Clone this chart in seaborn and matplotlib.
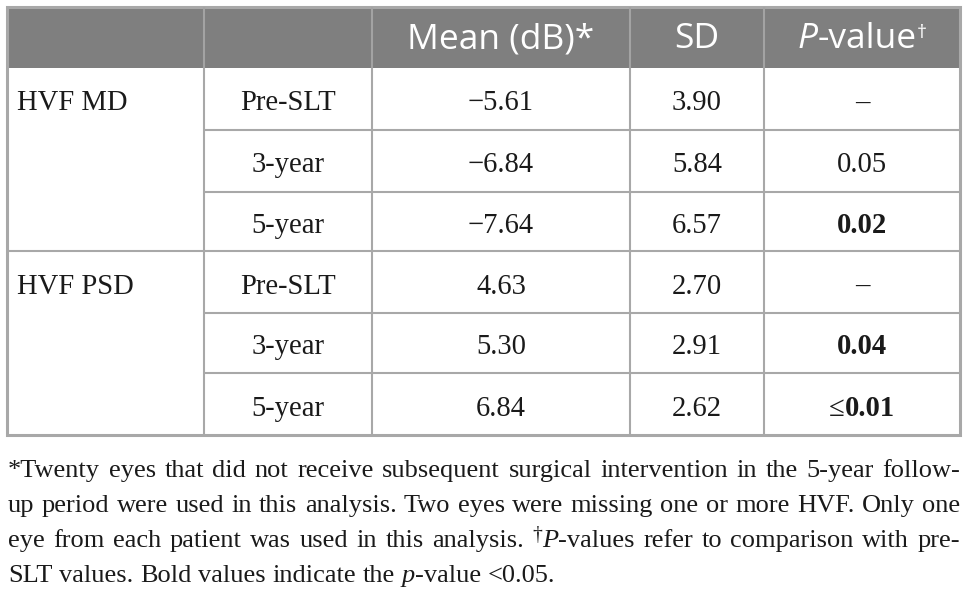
import numpy as np
import pandas as pd
import seaborn as sns
import matplotlib.pyplot as plt
from matplotlib.patches import Rectangle

# ----------------------------
# DATA
# ----------------------------
measures = ["HVF MD", "HVF PSD"]
timepoints = ["Pre-SLT", "3-year", "5-year"]
mean_db = [-5.61, -6.84, -7.64, 4.63, 5.30, 6.84]
sd_db = [3.90, 5.84, 6.57, 2.70, 2.91, 2.62]
p_values = ["–", "0.05", "0.02", "–", "0.04", "0.01"]
p_prefix = ["", "", "", "", "", "≤"]
p_bold = [False, False, True, False, True, True]

footnote = [
    "*Twenty eyes that did not receive subsequent surgical intervention in the 5-year follow-",
    "up period were used in this analysis. Two eyes were missing one or more HVF. Only one",
    "eye from each patient was used in this analysis. †|P|-values refer to comparison with pre-",
    "SLT values. Bold values indicate the |p|-value <0.05.",
]

df = pd.DataFrame({
    "measure": np.repeat(measures, len(timepoints)),
    "timepoint": timepoints * len(measures),
    "mean": mean_db,
    "sd": sd_db,
    "p": p_values,
    "prefix": p_prefix,
    "bold": p_bold,
})

# ----------------------------
# LAYOUT
# ----------------------------
W, H = 966, 602
col_edges = [7, 204, 372, 630, 764, 960]
row_edges = [7, 68, 130, 192, 251, 313, 373, 435]
line_col = "#a8a8a8"
head_col = "#7f7f7f"
serif = ["Liberation Serif", "DejaVu Serif"]
sans = ["Open Sans", "DejaVu Sans"]
body_fs = 20.6
head_fs = 25.5
note_fs = 19

sns.set_theme(style="white")
plt.rcParams["font.family"] = serif

fig = plt.figure(figsize=(W / 100, H / 100), dpi=100)
ax = fig.add_axes([0, 0, 1, 1])
ax.set_xlim(0, W)
ax.set_ylim(H, 0)
ax.axis("off")
fig.canvas.draw()
renderer = fig.canvas.get_renderer()


def width_of(s, **kw):
    t = ax.text(0, 0, s, **kw)
    w = t.get_window_extent(renderer).width
    t.remove()
    return w


def draw_runs(runs, x, y, ha="center"):
    # runs: list of (text, kwargs, dy)
    widths = [width_of(s, **kw) for s, kw, dy in runs]
    total = sum(widths)
    cx = x - total / 2 if ha == "center" else x
    for (s, kw, dy), w in zip(runs, widths):
        ax.text(cx, y - dy, s, va="baseline", ha="left", **kw)
        cx += w


# header band
ax.add_patch(Rectangle((col_edges[0], row_edges[0]), col_edges[-1] - col_edges[0],
                       row_edges[1] - row_edges[0], facecolor=head_col, edgecolor="none"))
for xe in col_edges[1:-1]:
    ax.plot([xe, xe], [row_edges[0], row_edges[1]], color="#a3a3a3", lw=1.5,
            solid_capstyle="butt")

# body grid
for i, ye in enumerate(row_edges[2:-1], start=2):
    x0 = col_edges[0] if i == 4 else col_edges[1]
    ax.plot([x0, col_edges[-1]], [ye, ye], color=line_col, lw=1.5, solid_capstyle="butt")
for xe in col_edges[1:-1]:
    ax.plot([xe, xe], [row_edges[1], row_edges[-1]], color=line_col, lw=1.5,
            solid_capstyle="butt")
ax.add_patch(Rectangle((col_edges[0], row_edges[0]), col_edges[-1] - col_edges[0],
                       row_edges[-1] - row_edges[0], facecolor="none",
                       edgecolor=line_col, lw=2.2))

# header text
hy = 48
hkw = dict(fontsize=head_fs, family=sans, color="white")
ccol = [(col_edges[i] + col_edges[i + 1]) / 2 for i in range(5)]
draw_runs([("Mean (dB)*", hkw, 0)], ccol[2], hy)
draw_runs([("SD", hkw, 0)], ccol[3], hy)
draw_runs([("P", dict(hkw, style="italic"), 0), ("-value", hkw, 0),
           ("†", dict(hkw, fontsize=head_fs * 0.55), 10)], ccol[4], hy)

# body text
bkw = dict(fontsize=body_fs, family=serif, color="#1a1a1a")
for r, row in df.iterrows():
    yb = (row_edges[r + 1] + row_edges[r + 2]) / 2 + 11.5
    if r % len(timepoints) == 0:
        ax.text(17, yb, row["measure"], va="baseline", ha="left", **bkw)
    draw_runs([(row["timepoint"], bkw, 0)], ccol[1], yb)
    draw_runs([(f"{row['mean']:.2f}".replace("-", "\u2212"), bkw, 0)], ccol[2], yb)
    draw_runs([(f"{row['sd']:.2f}", bkw, 0)], ccol[3], yb)
    runs = []
    if row["prefix"]:
        runs.append((row["prefix"], bkw, 0))
    runs.append((row["p"], dict(bkw, weight="bold") if row["bold"] else bkw, 0))
    draw_runs(runs, ccol[4], yb)

# footnote, justified except the last line
nkw = dict(fontsize=note_fs, family=serif, color="#1a1a1a")
note_y = [477, 512, 547, 582]
x_left, x_right = 8, 960
space_w = width_of("a a", **nkw) - width_of("aa", **nkw)
for li, line in enumerate(footnote):
    words = []
    for word in line.split(" "):
        pieces = []
        for k, part in enumerate(word.split("|")):
            if not part:
                continue
            if k % 2 == 1:
                pieces.append((part, dict(nkw, style="italic"), 0))
            elif part.startswith("†"):
                pieces.append(("†", dict(nkw, fontsize=note_fs * 0.75), 7))
                if part[1:]:
                    pieces.append((part[1:], nkw, 0))
            else:
                pieces.append((part, nkw, 0))
        words.append(pieces)
    wlens = [sum(width_of(s, **kw) for s, kw, dy in p) for p in words]
    if li < len(footnote) - 1:
        gap = (x_right - x_left - sum(wlens)) / (len(words) - 1)
    else:
        gap = space_w
    cx = x_left
    for p, wl in zip(words, wlens):
        draw_runs(p, cx, note_y[li], ha="left")
        cx += wl + gap

fig.savefig("out.png", dpi=100)
